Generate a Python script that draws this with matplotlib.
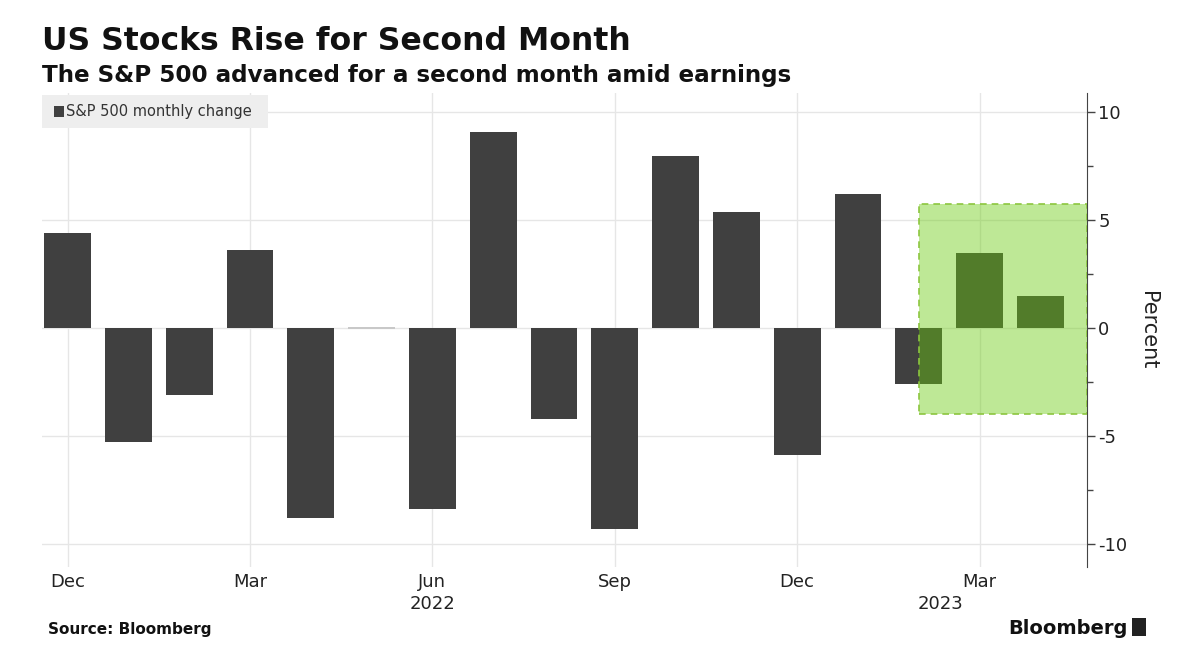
import numpy as np
import matplotlib
matplotlib.use("Agg")
import matplotlib.pyplot as plt
from matplotlib.patches import Rectangle
from matplotlib.ticker import MultipleLocator

months = ["Dec", "Jan", "Feb", "Mar", "Apr", "May", "Jun", "Jul", "Aug",
          "Sep", "Oct", "Nov", "Dec", "Jan", "Feb", "Mar", "Apr"]
changes = [4.4, -5.3, -3.1, 3.6, -8.8, 0.0, -8.4, 9.1, -4.2,
           -9.3, 8.0, 5.4, -5.9, 6.2, -2.6, 3.5, 1.5]
tick_idx = [0, 3, 6, 9, 12, 15]
year_labels = [(6, "2022"), (14.35, "2023")]
highlight = (14.0, -4.0, 5.75)  # start index, low, high

plt.rcParams['font.family'] = ['DejaVu Sans']

fig = plt.figure(figsize=(12, 6.69), dpi=100)
ax = fig.add_axes([0.035, 0.152, 0.871, 0.709])

x = np.arange(len(changes))
ax.bar(x, changes, width=0.77, color="#404040", zorder=2)
ax.bar(5, 0.12, bottom=-0.06, width=0.77, color="#c8c8c8", zorder=2)

ax.set_xlim(-0.42, 16.77)
ax.set_ylim(-11.1, 10.9)

# highlight box for 2023
ax.add_patch(Rectangle((highlight[0], highlight[1]), 16.77 - highlight[0],
                       highlight[2] - highlight[1], facecolor="#6bcb10",
                       alpha=0.44, edgecolor="none", zorder=3))
ax.add_patch(Rectangle((highlight[0], highlight[1]), 16.77 - highlight[0],
                       highlight[2] - highlight[1], facecolor="none",
                       edgecolor="#8cc63f", linestyle=(0, (4, 3)), lw=1.2, zorder=3))

ax.yaxis.tick_right()
ax.yaxis.set_label_position("right")
ax.yaxis.set_minor_locator(MultipleLocator(2.5))
ax.set_yticks([-10, -5, 0, 5, 10])
ax.set_yticklabels(["-10", "-5", "0", "5", "10"])
ax.set_ylabel("Percent", rotation=270, labelpad=22, fontsize=15, color="#222222")
ax.tick_params(axis="y", which="major", length=6, width=1, colors="#444444",
               labelsize=13, labelcolor="#222222", pad=2)
ax.tick_params(axis="y", which="minor", length=4, width=1, colors="#444444")

ax.set_xticks(tick_idx)
ax.set_xticklabels([months[i] for i in tick_idx], fontsize=13, color="#222222")
ax.tick_params(axis="x", length=0, pad=4)
for xi, lab in year_labels:
    ax.text(xi, -12.4, lab, ha="center", va="top", fontsize=13, color="#222222")

ax.grid(True, which="major", color="#e6e6e6", lw=1, zorder=0)
for s in ["top", "left", "bottom"]:
    ax.spines[s].set_visible(False)
ax.spines["right"].set_color("#444444")

# legend box
fig.patches.append(Rectangle((0.035, 0.808), 0.188, 0.05, transform=fig.transFigure,
                             facecolor="#eeeeee", edgecolor="none", zorder=5))
fig.patches.append(Rectangle((0.045, 0.825), 0.008, 0.016, transform=fig.transFigure,
                             facecolor="#404040", edgecolor="none", zorder=6))
fig.text(0.055, 0.833, "S&P 500 monthly change", fontsize=10.5, color="#333333",
         va="center", ha="left", zorder=7)

fig.text(0.035, 0.925, "US Stocks Rise for Second Month", fontsize=22.7,
         fontweight="bold", color="#111111", va="baseline")
fig.text(0.035, 0.878, "The S&P 500 advanced for a second month amid earnings",
         fontsize=16.6, fontweight="bold", color="#111111", va="baseline")
fig.text(0.04, 0.052, "Source: Bloomberg", fontsize=11, fontweight="bold",
         color="#111111", va="baseline")
fig.text(0.94, 0.052, "Bloomberg", fontsize=14, fontweight="bold",
         color="#111111", va="baseline", ha="right")
fig.patches.append(Rectangle((0.943, 0.05), 0.012, 0.026, transform=fig.transFigure,
                             facecolor="#222222", edgecolor="none"))

fig.savefig("out.png", dpi=100, facecolor="white")
